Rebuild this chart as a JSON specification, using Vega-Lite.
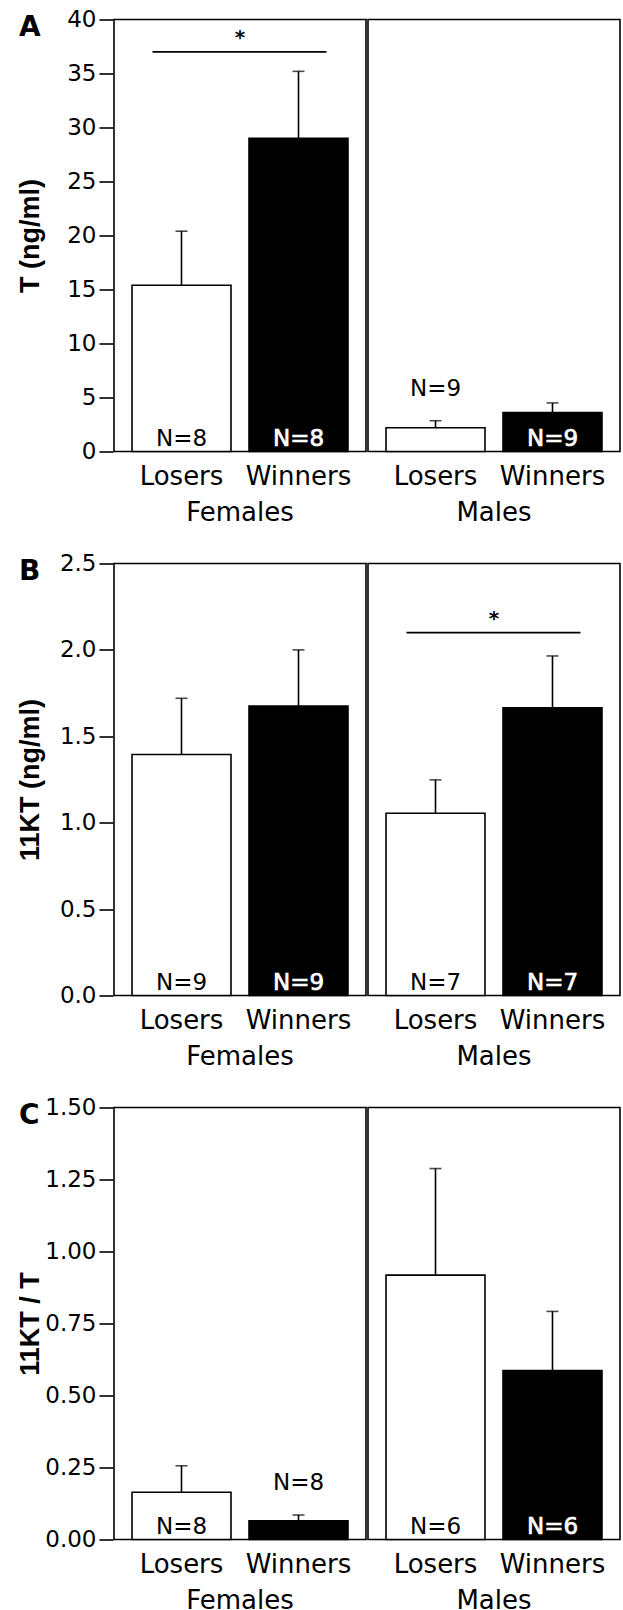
{
  "$schema": "https://vega.github.io/schema/vega-lite/v6.json",
  "padding": {"left": 16, "top": 8.5, "right": 6, "bottom": 0},
  "spacing": 27,
  "config": {
    "font": "DejaVu Sans",
    "view": {"stroke": "black", "strokeWidth": 1.6},
    "axisY": {"domain": false, "grid": false, "tickColor": "black", "tickWidth": 1.6, "tickSize": 14, "labelPadding": 3, "labelFont": "DejaVu Sans", "labelFontSize": 23, "labelColor": "black", "titleFont": "Liberation Sans", "titleFontSize": 27, "titleFontWeight": "bold", "titleColor": "black", "titleX": -83, "titleBaseline": "middle"},
    "axisX": {"domain": false, "ticks": false, "tickSize": 0, "labelPadding": 10, "labelFont": "DejaVu Sans", "labelFontSize": 26, "labelColor": "black", "labelAngle": 0, "title": null},
    "title": {"anchor": "start", "frame": "group", "font": "DejaVu Sans", "fontSize": 28, "fontWeight": "bold", "color": "black", "dx": -95, "dy": 37, "offset": 0, "baseline": "alphabetic"}
  },
  "vconcat": [
    {
      "title": "A",
      "data": {"values": [
        {"kind": "bar", "sex": "Females", "group": "Losers", "mean": 15.4, "hi": 20.4, "n": "N=8", "npos": "in"},
        {"kind": "bar", "sex": "Females", "group": "Winners", "mean": 29.0, "hi": 35.2, "n": "N=8", "npos": "in"},
        {"kind": "bar", "sex": "Males", "group": "Losers", "mean": 2.2, "hi": 2.85, "n": "N=9", "npos": "above"},
        {"kind": "bar", "sex": "Males", "group": "Winners", "mean": 3.6, "hi": 4.5, "n": "N=9", "npos": "in"},
        {"kind": "sig", "sex": "Females", "group": "Losers", "group2": "Winners", "mean": 37}
      ]},
      "facet": {"column": {"field": "sex", "type": "nominal", "sort": ["Females", "Males"], "header": {"title": null, "labelOrient": "bottom", "labelFont": "DejaVu Sans", "labelFontSize": 26, "labelColor": "black", "labelPadding": 10}}},
      "spacing": 0,
      "spec": {
        "width": 252,
        "height": 432,
        "encoding": {
          "x": {"field": "group", "type": "nominal", "sort": ["Losers", "Winners"], "scale": {"paddingInner": 0.154, "paddingOuter": 0.154}, "axis": {"title": null}},
          "y": {"field": "mean", "type": "quantitative", "title": "T (ng/ml)", "scale": {"domain": [0, 40], "nice": false}, "axis": {"values": [0, 5, 10, 15, 20, 25, 30, 35, 40], "format": "d"}}
        },
        "layer": [
          {"transform": [{"filter": "datum.kind === 'bar'"}], "mark": {"type": "rule", "color": "black", "strokeWidth": 1.6}, "encoding": {"y2": {"field": "hi"}}},
          {"transform": [{"filter": "datum.kind === 'bar'"}], "mark": {"type": "tick", "color": "black", "thickness": 1.6, "size": 12, "orient": "horizontal"}, "encoding": {"y": {"field": "hi", "type": "quantitative", "title": "T (ng/ml)"}}},
          {"transform": [{"filter": "datum.kind === 'bar'"}], "mark": {"type": "bar", "stroke": "black", "strokeWidth": 1.6}, "encoding": {"fill": {"field": "group", "type": "nominal", "scale": {"domain": ["Losers", "Winners"], "range": ["white", "black"]}, "legend": null}}},
          {"transform": [{"filter": "datum.kind === 'bar' && datum.npos === 'in' && datum.group === 'Losers'"}], "mark": {"type": "text", "baseline": "alphabetic", "dy": -6, "fontSize": 23, "color": "black"}, "encoding": {"y": {"datum": 0, "title": "T (ng/ml)"}, "text": {"field": "n"}}},
          {"transform": [{"filter": "datum.kind === 'bar' && datum.npos === 'in' && datum.group === 'Winners'"}], "mark": {"type": "text", "baseline": "alphabetic", "dy": -6, "fontSize": 23, "fill": "white", "stroke": "white", "strokeWidth": 0.7}, "encoding": {"y": {"datum": 0, "title": "T (ng/ml)"}, "text": {"field": "n"}}},
          {"transform": [{"filter": "datum.kind === 'bar' && datum.npos === 'above'"}], "mark": {"type": "text", "baseline": "alphabetic", "dy": -25, "fontSize": 23, "color": "black"}, "encoding": {"y": {"field": "hi", "type": "quantitative", "title": "T (ng/ml)"}, "text": {"field": "n"}}},
          {"transform": [{"filter": "datum.kind === 'sig'"}], "mark": {"type": "rule", "color": "black", "strokeWidth": 1.6, "xOffset": -29, "x2Offset": 28}, "encoding": {"x2": {"field": "group2"}}},
          {"transform": [{"filter": "datum.kind === 'sig'"}], "mark": {"type": "text", "text": "*", "fontSize": 20, "fontWeight": "bold", "baseline": "alphabetic", "dx": 58.5, "dy": -8, "color": "black"}, "encoding": {}}
        ]
      }
    },
    {
      "title": "B",
      "data": {"values": [
        {"kind": "bar", "sex": "Females", "group": "Losers", "mean": 1.395, "hi": 1.72, "n": "N=9", "npos": "in"},
        {"kind": "bar", "sex": "Females", "group": "Winners", "mean": 1.675, "hi": 2.0, "n": "N=9", "npos": "in"},
        {"kind": "bar", "sex": "Males", "group": "Losers", "mean": 1.055, "hi": 1.248, "n": "N=7", "npos": "in"},
        {"kind": "bar", "sex": "Males", "group": "Winners", "mean": 1.665, "hi": 1.965, "n": "N=7", "npos": "in"},
        {"kind": "sig", "sex": "Males", "group": "Losers", "group2": "Winners", "mean": 2.1}
      ]},
      "facet": {"column": {"field": "sex", "type": "nominal", "sort": ["Females", "Males"], "header": {"title": null, "labelOrient": "bottom", "labelFont": "DejaVu Sans", "labelFontSize": 26, "labelColor": "black", "labelPadding": 10}}},
      "spacing": 0,
      "spec": {
        "width": 252,
        "height": 432,
        "encoding": {
          "x": {"field": "group", "type": "nominal", "sort": ["Losers", "Winners"], "scale": {"paddingInner": 0.154, "paddingOuter": 0.154}, "axis": {"title": null}},
          "y": {"field": "mean", "type": "quantitative", "title": "11KT (ng/ml)", "scale": {"domain": [0, 2.5], "nice": false}, "axis": {"values": [0, 0.5, 1, 1.5, 2, 2.5], "format": ".1f"}}
        },
        "layer": [
          {"transform": [{"filter": "datum.kind === 'bar'"}], "mark": {"type": "rule", "color": "black", "strokeWidth": 1.6}, "encoding": {"y2": {"field": "hi"}}},
          {"transform": [{"filter": "datum.kind === 'bar'"}], "mark": {"type": "tick", "color": "black", "thickness": 1.6, "size": 12, "orient": "horizontal"}, "encoding": {"y": {"field": "hi", "type": "quantitative", "title": "11KT (ng/ml)"}}},
          {"transform": [{"filter": "datum.kind === 'bar'"}], "mark": {"type": "bar", "stroke": "black", "strokeWidth": 1.6}, "encoding": {"fill": {"field": "group", "type": "nominal", "scale": {"domain": ["Losers", "Winners"], "range": ["white", "black"]}, "legend": null}}},
          {"transform": [{"filter": "datum.kind === 'bar' && datum.npos === 'in' && datum.group === 'Losers'"}], "mark": {"type": "text", "baseline": "alphabetic", "dy": -6, "fontSize": 23, "color": "black"}, "encoding": {"y": {"datum": 0, "title": "11KT (ng/ml)"}, "text": {"field": "n"}}},
          {"transform": [{"filter": "datum.kind === 'bar' && datum.npos === 'in' && datum.group === 'Winners'"}], "mark": {"type": "text", "baseline": "alphabetic", "dy": -6, "fontSize": 23, "fill": "white", "stroke": "white", "strokeWidth": 0.7}, "encoding": {"y": {"datum": 0, "title": "11KT (ng/ml)"}, "text": {"field": "n"}}},
          {"transform": [{"filter": "datum.kind === 'sig'"}], "mark": {"type": "rule", "color": "black", "strokeWidth": 1.6, "xOffset": -29, "x2Offset": 28}, "encoding": {"x2": {"field": "group2"}}},
          {"transform": [{"filter": "datum.kind === 'sig'"}], "mark": {"type": "text", "text": "*", "fontSize": 20, "fontWeight": "bold", "baseline": "alphabetic", "dx": 58.5, "dy": -8, "color": "black"}, "encoding": {}}
        ]
      }
    },
    {
      "title": "C",
      "data": {"values": [
        {"kind": "bar", "sex": "Females", "group": "Losers", "mean": 0.164, "hi": 0.256, "n": "N=8", "npos": "in"},
        {"kind": "bar", "sex": "Females", "group": "Winners", "mean": 0.065, "hi": 0.085, "n": "N=8", "npos": "above"},
        {"kind": "bar", "sex": "Males", "group": "Losers", "mean": 0.918, "hi": 1.288, "n": "N=6", "npos": "in"},
        {"kind": "bar", "sex": "Males", "group": "Winners", "mean": 0.587, "hi": 0.792, "n": "N=6", "npos": "in"}
      ]},
      "facet": {"column": {"field": "sex", "type": "nominal", "sort": ["Females", "Males"], "header": {"title": null, "labelOrient": "bottom", "labelFont": "DejaVu Sans", "labelFontSize": 26, "labelColor": "black", "labelPadding": 10}}},
      "spacing": 0,
      "spec": {
        "width": 252,
        "height": 432,
        "encoding": {
          "x": {"field": "group", "type": "nominal", "sort": ["Losers", "Winners"], "scale": {"paddingInner": 0.154, "paddingOuter": 0.154}, "axis": {"title": null}},
          "y": {"field": "mean", "type": "quantitative", "title": "11KT / T", "scale": {"domain": [0, 1.5], "nice": false}, "axis": {"values": [0, 0.25, 0.5, 0.75, 1, 1.25, 1.5], "format": ".2f"}}
        },
        "layer": [
          {"transform": [{"filter": "datum.kind === 'bar'"}], "mark": {"type": "rule", "color": "black", "strokeWidth": 1.6}, "encoding": {"y2": {"field": "hi"}}},
          {"transform": [{"filter": "datum.kind === 'bar'"}], "mark": {"type": "tick", "color": "black", "thickness": 1.6, "size": 12, "orient": "horizontal"}, "encoding": {"y": {"field": "hi", "type": "quantitative", "title": "11KT / T"}}},
          {"transform": [{"filter": "datum.kind === 'bar'"}], "mark": {"type": "bar", "stroke": "black", "strokeWidth": 1.6}, "encoding": {"fill": {"field": "group", "type": "nominal", "scale": {"domain": ["Losers", "Winners"], "range": ["white", "black"]}, "legend": null}}},
          {"transform": [{"filter": "datum.kind === 'bar' && datum.npos === 'in' && datum.group === 'Losers'"}], "mark": {"type": "text", "baseline": "alphabetic", "dy": -6, "fontSize": 23, "color": "black"}, "encoding": {"y": {"datum": 0, "title": "11KT / T"}, "text": {"field": "n"}}},
          {"transform": [{"filter": "datum.kind === 'bar' && datum.npos === 'in' && datum.group === 'Winners'"}], "mark": {"type": "text", "baseline": "alphabetic", "dy": -6, "fontSize": 23, "fill": "white", "stroke": "white", "strokeWidth": 0.7}, "encoding": {"y": {"datum": 0, "title": "11KT / T"}, "text": {"field": "n"}}},
          {"transform": [{"filter": "datum.kind === 'bar' && datum.npos === 'above'"}], "mark": {"type": "text", "baseline": "alphabetic", "dy": -25, "fontSize": 23, "color": "black"}, "encoding": {"y": {"field": "hi", "type": "quantitative", "title": "11KT / T"}, "text": {"field": "n"}}}
        ]
      }
    }
  ]
}
